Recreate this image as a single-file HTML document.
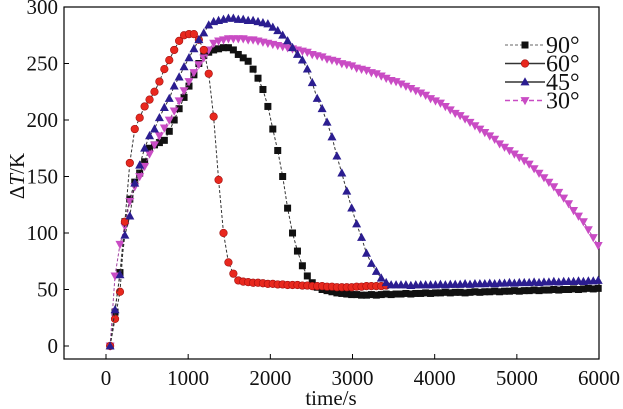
<!DOCTYPE html>
<html><head><meta charset="utf-8"><style>
html,body{margin:0;padding:0;background:#fff;}
svg{display:block;font-family:"Liberation Serif","DejaVu Serif",serif;}
</style></head><body>
<svg id="chart" width="623" height="409" viewBox="0 0 623 409"></svg>
<script>
const xTicks=[0,1000,2000,3000,4000,5000,6000];
const yTicks=[0,50,100,150,200,250,300];
const seriesNames=["90°","60°","45°","30°"];
const start90=50, step90=60;
const values90=[0,30,65,110,130,145,153,163,175,178,180,182,190,200,210,220,230,240,250,257,260,262,263,264,264,262,258,255,252,245,237,227,212,192,173,150,122,100,84,71,62,56,52,50,49,48,47,46.5,46,45.5,
45.5,45,45,45.5,45,45.5,46,45.5,46,46,46.5,46,46.5,46.5,47,46.5,47,47,47.5,47,47.5,47.5,47,47.5,48,47.5,48,48,48.5,48,48.5,48.5,49,48.5,49,49,49.5,49,49.5,49.5,50,49.5,50,50,50.5,50,50.5,51,50.5,51];
const start60=50, step60=60;
const values60=[0,24,48,110,162,192,202,212,218,225,234,245,253,262,270,275,276,276,271,262,241,203,147,100,74,64,58,57,56.5,56,56,55.5,55,55,54.5,54.5,54,54,54,53.5,53.5,53,53,53,52.5,52.5,52,52,52,52,52.5,52.5,53,53,53,53,53.5];
const start45=50, step45=60;
const values45=[0,32,63,98,115,144,160,175,186,192,202,211,219,230,238,247,255,263,271,277,284,287,288,289,290,290,289,289,288,288,287,286,285,282,279,275,270,264,258,253,245,233,219,210,198,185,168,153,137,122,108,96,82,73,66,60,56,54,54,
54,54,53.5,54,54,54,54,54,54.5,54,54.5,54.5,54.5,55,54.5,55,55,55,55.5,55,55.5,55.5,56,55.5,56,56,56,56.5,56,56.5,56.5,57,56.5,57,57,57,57.5,57,57.5,57.5,58];
const start30=50, step30=60;
const values30=[0,62,90,106,128,141,150,159,170,178,186,193,200,208,217,226,234,242,249,255,262,268,270,271,272,272,272,272,271,271,270,269,268,267,266,265,264,263,262,261,260,258,257,256,254,253,252,250,249,248,246,245,244,242,241,239,237,235,234,232,230,228,226,224,222,219,217,215,212,209,206,204,201,198,195,192,189,186,183,179,176,173,170,167,164,161,157,153,149,145,141,136,131,126,120,115,110,103,96,89];

const NS="http://www.w3.org/2000/svg";
const svg=document.getElementById('chart');
const L=64,R=599,T=7,B=359;
function xs(t){return 106+t*0.08217;}
function ys(v){return 346-v*1.13;}
function mk(tag,attrs,parent){const e=document.createElementNS(NS,tag);for(const k in attrs)e.setAttribute(k,attrs[k]);(parent||svg).appendChild(e);return e;}

const frame=mk('rect',{x:L,y:T,width:R-L,height:B-T,fill:'none',stroke:'#000','stroke-width':1.2});



xTicks.forEach(t=>{
  const x=xs(t);
  const tk=mk('line',{x1:x,y1:B,x2:x,y2:B-5,stroke:'#000','stroke-width':1});
  
  
  const tx=mk('text',{x:x,y:385,'text-anchor':'middle','font-size':21,fill:'#111'});
  tx.textContent=t;
  
  
});
yTicks.forEach(v=>{
  const y=ys(v);
  const tk=mk('line',{x1:L,y1:y,x2:L+5,y2:y,stroke:'#000','stroke-width':1});
  
  
  const tx=mk('text',{x:58,y:y+7,'text-anchor':'end','font-size':21,fill:'#111'});
  tx.textContent=v;
  
  
});
const xt=mk('text',{x:331,y:405,'text-anchor':'middle','font-size':21,fill:'#111'});
xt.textContent='time/s';


const yt=mk('text',{x:0,y:0,'text-anchor':'middle','font-size':21,fill:'#111',transform:'translate(24,176) rotate(-90)'});
yt.innerHTML='Δ<tspan font-style="italic">T</tspan>/K';



function marker(g,type,x,y,fill,stroke){
  let e;
  if(type==='sq') e=mk('rect',{x:x-3.5,y:y-3.5,width:7,height:7,fill:fill},g);
  else if(type==='ci') e=mk('circle',{cx:x,cy:y,r:3.8,fill:fill,stroke:stroke,'stroke-width':0.6},g);
  else if(type==='up') e=mk('polygon',{points:`${x},${y-4.8} ${x-4.5},${y+3.4} ${x+4.5},${y+3.4}`,fill:fill},g);
  else e=mk('polygon',{points:`${x},${y+4.8} ${x-4.5},${y-3.4} ${x+4.5},${y-3.4}`,fill:fill},g);
  return e;
}
function series(name,vals,st,sp,type,fill,stroke,lineCol){
  const g=mk('g',{});
  
  
  const pts=vals.map((v,i)=>xs(st+i*sp).toFixed(1)+','+ys(v).toFixed(1)).join(' ');
  const pl=mk('polyline',{points:pts,fill:'none',stroke:lineCol,'stroke-width':1,'stroke-dasharray':'3,2'},g);
  
  
  vals.forEach((v,i)=>{
    const m=marker(g,type,xs(st+i*sp),ys(v),fill,stroke);
    
    
  });
}
series('90',values90,start90,step90,'sq','#111','#111','#333');
series('30',values30,start30,step30,'dn','#c94cc4','#c94cc4','#a040a0');
series('60',values60,start60,step60,'ci','#e8281e','#a01010','#333');
series('45',values45,start45,step45,'up','#2b1d90','#2b1d90','#333');

const lg=mk('g',{});


const legStyles=[['sq','#111','#999','3,2'],['ci','#e8281e','#333',''],['up','#2b1d90','#333',''],['dn','#c94cc4','#c94cc4','5,3']];
legStyles.forEach((s,i)=>{
  const y=45+i*18.5;
  const ln=mk('line',{x1:505,y1:y,x2:545,y2:y,stroke:s[2],'stroke-width':1.5,'stroke-dasharray':s[3]},lg);
  
  
  const m=marker(lg,s[0],525,y,s[1],'#a01010');
  
  
  const tx=mk('text',{x:546,y:y+8,'font-size':24,fill:'#111'},lg);
  tx.textContent=seriesNames[i];
  
  
});
</script>
</body></html>
